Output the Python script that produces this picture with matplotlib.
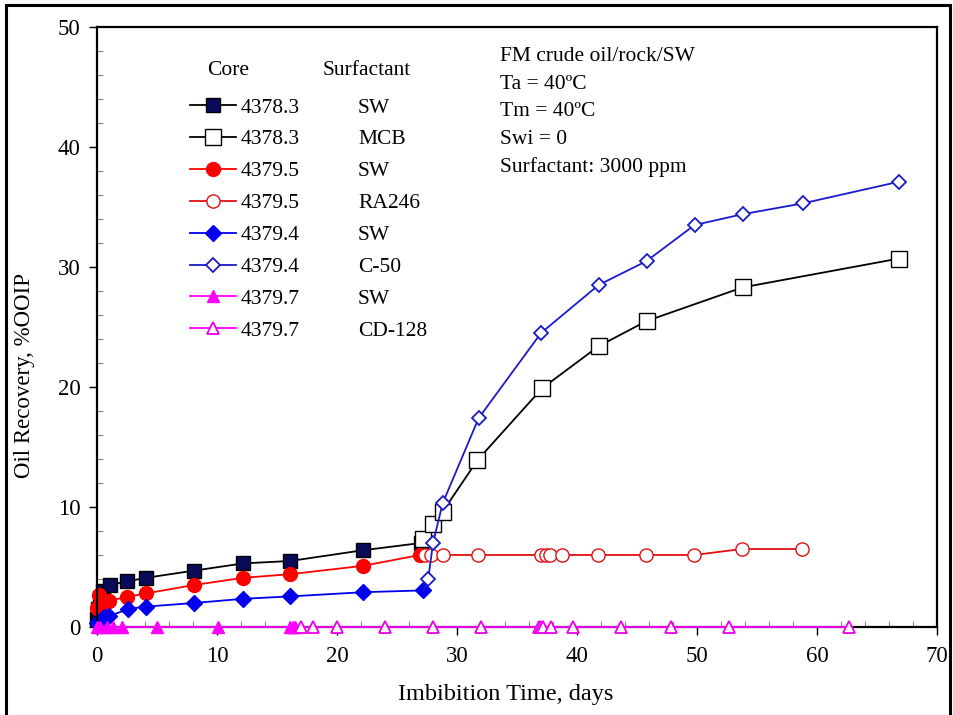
import numpy as np
import matplotlib
matplotlib.use('Agg')
import matplotlib.pyplot as plt
from matplotlib.lines import Line2D
from matplotlib.patches import Rectangle
from matplotlib.ticker import MultipleLocator

plt.rcParams['font.family'] = ['Liberation Serif', 'DejaVu Serif']

# imbibition data, days vs %OOIP
sw_43783_t = [0.0, 0.1, 0.25, 0.5, 1.1, 2.5, 4.1, 8.1, 12.2, 16.1, 22.2, 27.0]
sw_43783_r = [0.7, 1.5, 2.4, 3.0, 3.5, 3.8, 4.1, 4.7, 5.3, 5.5, 6.4, 7.0]
mcb_t = [27.0, 27.2, 28.0, 28.8, 31.7, 37.1, 41.8, 45.8, 53.8, 66.8]
mcb_r = [7.0, 7.3, 8.6, 9.6, 13.9, 19.9, 23.4, 25.5, 28.3, 30.7]

sw_43795_t = [0.0, 0.2, 0.5, 0.7, 1.0, 2.5, 4.1, 8.1, 12.2, 16.1, 22.2, 26.9]
sw_43795_r = [1.6, 2.7, 2.2, 2.0, 2.2, 2.5, 2.8, 3.5, 4.1, 4.4, 5.1, 6.0]
ra246_t = [26.9, 27.3, 27.8, 28.8, 31.75, 37.0, 37.4, 37.75, 38.75, 41.75, 45.75, 49.75, 53.75, 58.75]
ra246_r = [6.0, 6.0, 6.0, 6.0, 6.0, 6.0, 6.0, 6.0, 6.0, 6.0, 6.0, 6.0, 6.5, 6.5]

sw_43794_t = [0.0, 0.3, 0.6, 1.0, 2.6, 4.1, 8.1, 12.2, 16.1, 22.2, 27.2]
sw_43794_r = [0.3, 0.6, 0.8, 0.9, 1.5, 1.7, 2.0, 2.35, 2.55, 2.9, 3.05]
c50_t = [27.2, 27.6, 28.0, 28.8, 31.8, 37.0, 41.8, 45.8, 49.8, 53.8, 58.8, 66.8]
c50_r = [3.05, 4.0, 7.0, 10.3, 17.4, 24.5, 28.5, 30.5, 33.5, 34.4, 35.3, 37.1]

sw_43797_t = [0.0, 0.23, 0.8, 1.35, 2.1, 5.0, 10.1, 16.1, 16.3, 16.5]
sw_43797_r = [0, 0, 0, 0, 0, 0, 0, 0, 0, 0]
cd128_t = [16.5, 17.0, 18.0, 20.0, 24.0, 28.0, 32.0, 36.8, 37.0, 37.2, 37.8, 39.7, 43.7, 47.8, 52.7, 62.7]
cd128_r = [0] * len(cd128_t)

cores = ['4378.3', '4378.3', '4379.5', '4379.5', '4379.4', '4379.4', '4379.7', '4379.7']
surfactants = ['SW', 'MCB', 'SW', 'RA246', 'SW', 'C-50', 'SW', 'CD-128']
notes = ['FM crude oil/rock/SW', 'Ta = 40ºC', 'Tm = 40ºC', 'Swi = 0', 'Surfactant: 3000 ppm']

fig = plt.figure(figsize=(9.54, 7.15), dpi=100)
ax = fig.add_axes([0.1017, 0.1231, 0.8805, 0.8391])

lw = 1.3
h = []
h += ax.plot(sw_43783_t, sw_43783_r, color='k', lw=lw, marker='s', ms=9.5, mfc='#0a0a5a', mec='k', clip_on=False)
h += ax.plot(mcb_t, mcb_r, color='k', lw=lw, marker='s', ms=11, mfc='white', mec='k', markevery=slice(1, None), clip_on=False)
h += ax.plot(sw_43795_t, sw_43795_r, color='#ff0000', lw=lw, marker='o', ms=10, mfc='#ff0000', mec='#ff0000', clip_on=False)
h += ax.plot(ra246_t, ra246_r, color='#e01010', lw=lw, marker='o', ms=9.5, mfc='white', mec='#e01010', markevery=slice(1, None), clip_on=False)
h += ax.plot(sw_43794_t, sw_43794_r, color='#0000ee', lw=lw, marker='D', ms=8, mfc='#0000ee', mec='#0000ee', clip_on=False)
h += ax.plot(c50_t, c50_r, color='#1a1acc', lw=lw, marker='D', ms=7.5, mfc='white', mec='#1a1acc', mew=1.3, markevery=slice(1, None), clip_on=False)
h += ax.plot(sw_43797_t, sw_43797_r, color='#ff00ff', lw=lw, marker='^', ms=9, mfc='#ff00ff', mec='#ff00ff', clip_on=False, zorder=3)
h += ax.plot(cd128_t, cd128_r, color='#ff00ff', lw=lw, marker='^', ms=9, mfc='white', mec='#ee00ee', mew=1.3, markevery=slice(1, None), clip_on=False, zorder=3)

ax.set_xlim(0, 70)
ax.set_ylim(0, 50)
ax.xaxis.set_major_locator(MultipleLocator(10))
ax.xaxis.set_minor_locator(MultipleLocator(2))
ax.yaxis.set_major_locator(MultipleLocator(10))
ax.yaxis.set_minor_locator(MultipleLocator(2))
ax.tick_params(which='major', direction='out', length=6, width=1, labelsize=16.5, pad=8)
ax.tick_params(which='minor', direction='in', length=4, width=0.8, color='#888888')
ax.tick_params(axis='y', which='major', pad=6)
for s in ax.spines.values():
    s.set_linewidth(1.6)

ax.set_xlabel('Imbibition Time, days', fontsize=17.5, labelpad=12, x=0.487)
ax.set_ylabel('Oil Recovery, %OOIP', fontsize=16.5, labelpad=16, y=0.42)

# legend: core column with handles, surfactant column as plain labels
blank = [Line2D([], [], linestyle='none') for _ in surfactants]
handles, labels = [], []
for i in range(len(cores)):
    handles += [h[i], blank[i]]
    labels += [cores[i], surfactants[i]]
leg_h = handles[0::2] + handles[1::2]
leg_l = labels[0::2] + labels[1::2]
leg = ax.legend(leg_h, leg_l, ncol=2, loc='upper left', bbox_to_anchor=(0.1, 0.897),
                frameon=False, fontsize=15.5, handlelength=2.15, handletextpad=0.2,
                columnspacing=0.38, labelspacing=0.55, borderaxespad=0)
for hd in leg.legend_handles[8:]:
    hd.set_visible(False)
ax.text(0.131, 0.92, 'Core', transform=ax.transAxes, fontsize=15.5, va='baseline')
ax.text(0.268, 0.92, 'Surfactant', transform=ax.transAxes, fontsize=15.5, va='baseline')

ax.text(0.48, 0.966, '\n'.join(notes), transform=ax.transAxes, fontsize=15.5,
        va='top', ha='left', linespacing=1.6)

fig.patches.append(Rectangle((0.006, -0.01), 0.99, 1.003, transform=fig.transFigure,
                             fill=False, lw=2.2, edgecolor='k'))

fig.savefig('out.png', dpi=100)
